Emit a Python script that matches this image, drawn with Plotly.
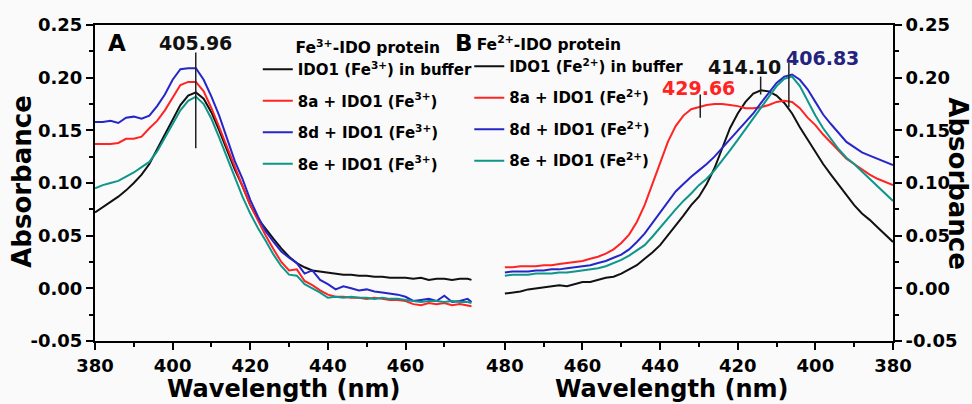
import plotly.graph_objects as go

# ---------------- data ----------------
wl_a = [380, 382, 384, 386, 388, 390, 392, 394, 396, 398, 400, 402, 404, 406, 408, 410, 412, 414, 416, 418,
        420, 422, 424, 426, 428, 430, 432, 434, 436, 438, 440, 442, 444, 446, 448, 450, 452, 454, 456, 458,
        460, 462, 464, 466, 468, 470, 472, 474, 476, 477]
a_buffer = [.072, .077, .082, .087, .093, .100, .108, .118, .132, .146, .161, .174, .183, .186, .180, .167, .150, .131, .113, .097,
            .079, .066, .056, .047, .038, .030, .024, .020, .017, .016, .015, .014, .013, .013, .012, .012, .011, .011, .010, .010,
            .010, .009, .010, .008, .009, .009, .008, .009, .009, .008]
a_8a = [.137, .137, .137, .138, .142, .142, .144, .152, .159, .169, .181, .193, .196, .196, .187, .171, .153, .134, .116, .097,
        .079, .064, .050, .037, .025, .017, .018, .007, .003, -.002, -.006, -.008, -.008, -.009, -.009, -.010, -.009, -.010, -.011, -.011,
        -.012, -.015, -.016, -.014, -.015, -.014, -.016, -.015, -.016, -.017]
a_8d = [.158, .158, .159, .157, .162, .163, .161, .164, .173, .184, .198, .208, .209, .209, .198, .182, .164, .143, .121, .104,
        .084, .068, .054, .044, .035, .029, .024, .014, .017, .008, .004, -.001, .002, .000, -.002, -.001, -.003, -.004, -.005, -.006,
        -.008, -.012, -.011, -.010, -.012, -.007, -.013, -.012, -.010, -.013]
a_8e = [.095, .098, .100, .102, .106, .110, .115, .120, .130, .143, .157, .169, .178, .182, .175, .161, .143, .124, .105, .087,
        .071, .057, .045, .032, .021, .013, .012, .004, .000, -.004, -.009, -.008, -.009, -.008, -.009, -.009, -.010, -.009, -.010, -.010,
        -.011, -.012, -.013, -.012, -.012, -.013, -.012, -.013, -.013, -.014]

wl_b = [480, 478, 476, 474, 472, 470, 468, 466, 464, 462, 460, 458, 456, 454, 452, 450, 448, 446, 444, 442,
        440, 438, 436, 434, 432, 430, 428, 426, 424, 422, 420, 418, 416, 414, 412, 410, 408, 406, 404, 402,
        400, 398, 396, 394, 392, 390, 388, 386, 384, 382, 380]
b_buffer = [-.005, -.004, -.003, -.001, .000, .001, .002, .003, .002, .004, .006, .006, .008, .010, .011, .014, .018, .022, .028, .034,
            .041, .050, .059, .069, .079, .087, .099, .114, .133, .152, .166, .177, .185, .188, .187, .183, .176, .166, .153, .141,
            .130, .118, .108, .098, .089, .079, .071, .065, .058, .051, .044]
b_8a = [.020, .020, .021, .021, .021, .022, .022, .023, .024, .025, .026, .028, .030, .033, .037, .043, .051, .063, .079, .099,
        .120, .139, .154, .164, .170, .172, .174, .175, .175, .174, .173, .171, .171, .172, .174, .177, .178, .177, .171, .162,
        .155, .146, .138, .130, .123, .118, .113, .108, .104, .101, .098]
b_8d = [.015, .016, .016, .016, .017, .017, .018, .018, .019, .020, .021, .022, .024, .026, .029, .032, .037, .044, .052, .062,
        .073, .083, .092, .099, .106, .112, .118, .125, .133, .141, .149, .157, .166, .176, .186, .195, .201, .203, .198, .189,
        .177, .165, .156, .148, .139, .134, .129, .126, .123, .120, .117]
b_8e = [.012, .013, .013, .013, .014, .014, .014, .015, .015, .016, .017, .018, .019, .021, .024, .027, .031, .036, .041, .049,
        .058, .066, .075, .083, .090, .098, .104, .112, .121, .131, .141, .151, .162, .172, .182, .192, .199, .201, .192, .178,
        .164, .152, .142, .132, .124, .118, .111, .104, .097, .090, .083]

names_a = ["IDO1 (Fe<sup>3+</sup>) in buffer", "8a + IDO1 (Fe<sup>3+</sup>)",
           "8d + IDO1 (Fe<sup>3+</sup>)", "8e + IDO1 (Fe<sup>3+</sup>)"]
names_b = ["IDO1 (Fe<sup>2+</sup>) in buffer", "8a + IDO1 (Fe<sup>2+</sup>)",
           "8d + IDO1 (Fe<sup>2+</sup>)", "8e + IDO1 (Fe<sup>2+</sup>)"]
colors = ["#111111", "#ff2424", "#2626c8", "#0e968a"]

# peak markers
peaks_wl = [405.96, 429.66, 414.10, 406.83]
peaks_panel = ["A", "B", "B", "B"]
peaks_label = ["405.96", "429.66", "414.10", "406.83"]
peaks_color = ["#111111", "#ff2424", "#111111", "#23237e"]
peaks_y0 = [0.133, 0.162, 0.184, 0.172]
peaks_y1 = [0.224, 0.184, 0.201, 0.214]
peaks_label_y = [0.233, 0.190, 0.210, 0.219]
peaks_label_dx = [0, -2, -16, 34]

y_ticks = [-0.05, 0.00, 0.05, 0.10, 0.15, 0.20, 0.25]
y_ticktext = ["-0.05", "0.00", "0.05", "0.10", "0.15", "0.20", "0.25"]
y_minor = [-0.025, 0.025, 0.075, 0.125, 0.175, 0.225]
xa_ticks = [380, 400, 420, 440, 460]
xa_minor = [390, 410, 430, 450, 470]
xb_ticks = [480, 460, 440, 420, 400, 380]
xb_minor = [470, 450, 430, 410, 390]

FONT = "DejaVu Sans, Liberation Sans, Arial, sans-serif"

fig = go.Figure()
for ys, nm, c in zip([a_buffer, a_8a, a_8d, a_8e], names_a, colors):
    fig.add_trace(go.Scatter(x=wl_a, y=ys, name=nm, mode="lines", line=dict(color=c, width=2),
                             xaxis="x", yaxis="y", legend="legend", legendgroup="A" + nm))
for ys, nm, c in zip([b_buffer, b_8a, b_8d, b_8e], names_b, colors):
    fig.add_trace(go.Scatter(x=wl_b, y=ys, name=nm, mode="lines", line=dict(color=c, width=2),
                             xaxis="x2", yaxis="y2", legend="legend2", legendgroup="B" + nm))

shapes = []
annotations = []
for p, w, lab, c, y0, y1, ly, dx in zip(peaks_panel, peaks_wl, peaks_label, peaks_color,
                                          peaks_y0, peaks_y1, peaks_label_y, peaks_label_dx):
    xr, yr = ("x", "y") if p == "A" else ("x2", "y2")
    shapes.append(dict(type="line", xref=xr, yref=yr, x0=w, x1=w, y0=y0, y1=y1,
                       line=dict(color="#222222", width=1.5)))
    annotations.append(dict(xref=xr, yref=yr, x=w, y=ly, xshift=dx, text=lab, showarrow=False,
                            xanchor="center", yanchor="middle",
                            font=dict(family=FONT, size=19, color=c, weight="bold")))


def paper_text(x, y, text, font, angle=0):
    return dict(xref="paper", yref="paper", x=x, y=y, text=text, showarrow=False,
                xanchor="center", yanchor="middle", textangle=angle, font=font)


letter_font = dict(family=FONT, size=23, color="black", weight="bold")
annotations.append(paper_text(0.028, 0.943, "A", letter_font))
annotations.append(paper_text(0.463, 0.943, "B", letter_font))
title_font = dict(family=FONT, size=26, color="black", weight="bold")
annotations.append(paper_text(-0.091, 0.505, "Absorbance", title_font, -90))
annotations.append(paper_text(1.081, 0.497, "Absorbance", title_font, 90))
xtitle_font = dict(family=FONT, size=24, color="black", weight="bold")
annotations.append(paper_text(0.236, -0.153, "Wavelength (nm)", xtitle_font))
annotations.append(paper_text(0.723, -0.153, "Wavelength (nm)", xtitle_font))

tick_font = dict(family=FONT, size=18, color="black", weight="bold")
axis_common = dict(showline=True, linecolor="black", linewidth=2, ticks="outside", ticklen=7,
                   tickwidth=2, tickcolor="black", showgrid=False, zeroline=False, tickfont=tick_font)
minor_common = dict(ticks="outside", ticklen=4, tickwidth=2, tickcolor="black")
legend_font = dict(family=FONT, size=15, color="black", weight="bold")
title_lfont = dict(family=FONT, size=15.5, color="black", weight="bold")

fig.update_layout(
    width=972, height=404,
    margin=dict(l=95, r=79, t=25, b=63),
    paper_bgcolor="#fafafa", plot_bgcolor="#fafafa",
    xaxis=dict(domain=[0, 0.5], range=[380, 482.8], tickmode="array", tickvals=xa_ticks,
               mirror=True, anchor="y", ticklabelstandoff=0,
               minor=dict(tickvals=xa_minor, **minor_common), **axis_common),
    xaxis2=dict(domain=[0.5, 1], range=[482.8, 380], tickmode="array", tickvals=xb_ticks,
                mirror=True, anchor="y2", ticklabelstandoff=0,
                minor=dict(tickvals=xb_minor, **minor_common), **axis_common),
    yaxis=dict(range=[-0.05, 0.25], tickmode="array", tickvals=y_ticks, ticktext=y_ticktext,
               anchor="x", side="left", minor=dict(tickvals=y_minor, **minor_common), **axis_common),
    yaxis2=dict(range=[-0.05, 0.25], tickmode="array", tickvals=y_ticks, ticktext=y_ticktext,
                anchor="x2", side="right", minor=dict(tickvals=y_minor, **minor_common), **axis_common),
    legend=dict(x=0.204, y=0.975, xanchor="left", yanchor="top", bgcolor="rgba(0,0,0,0)",
                font=legend_font, traceorder="grouped", tracegroupgap=9, itemwidth=30,
                title=dict(text="Fe<sup>3+</sup>-IDO protein", side="top center", font=title_lfont)),
    legend2=dict(x=0.469, y=0.985, xanchor="left", yanchor="top", bgcolor="rgba(0,0,0,0)",
                 font=legend_font, traceorder="grouped", tracegroupgap=9, itemwidth=30,
                 title=dict(text="\u00a0Fe<sup>2+</sup>-IDO protein", side="top", font=title_lfont)),
    shapes=shapes,
    annotations=annotations,
    showlegend=True,
)

fig.write_html("out.html", config={"displayModeBar": False},
               post_script="document.body.style.margin='0px';")
